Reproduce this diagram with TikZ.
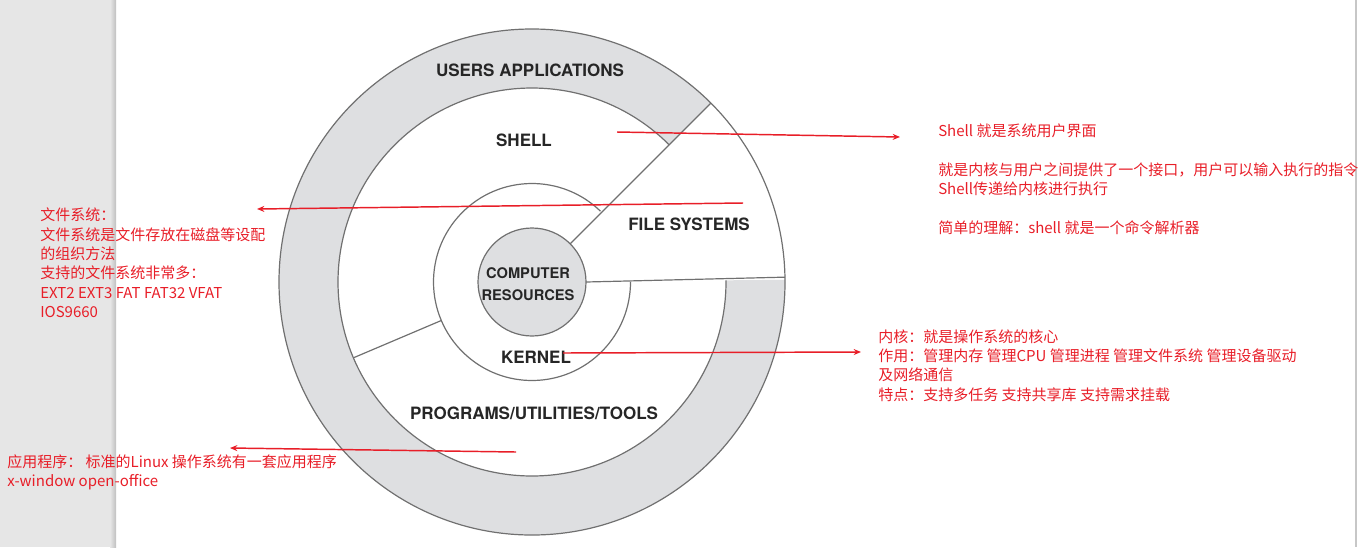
\documentclass[tikz,border=0pt]{standalone}
\usepackage{fontspec}
\setmainfont{Noto Sans CJK SC}
\newfontfamily\diagfont{TeX Gyre Heros}
\usetikzlibrary{arrows.meta}
\definecolor{NoteRed}{RGB}{232, 30, 40}
\definecolor{RingGray}{RGB}{222, 223, 225}
\definecolor{LineGray}{HTML}{707070}
\definecolor{PanelGray}{HTML}{E6E6E6}
\tikzset{
    ring line/.style={LineGray, line width=0.9pt},
    layer label/.style={text=black!85, inner sep=0pt,
        font=\diagfont\bfseries\fontsize{12.75pt}{14pt}\selectfont},
    note/.style={text=NoteRed, inner sep=0pt, anchor=west, align=left,
        font=\fontsize{11.25pt}{14.5pt}\selectfont},
    note arrow/.style={NoteRed, line width=1.1pt, -{Stealth[length={5.5pt}, width={4.5pt}]}},
}

\begin{document}
\begin{tikzpicture}[x=0.75pt, y=-0.75pt]
\useasboundingbox (0,0) rectangle (1358,547);

% page edges
\fill[PanelGray] (0,0) rectangle (111,547);
\shade[left color=PanelGray, right color=black!25] (110,0) rectangle (116,547);
\fill[black!22] (1355,0) rectangle (1357,547);

\coordinate (center) at (532,282);

\begin{scope}[shift={(center)}, yscale=-1]
    \fill[RingGray] (45:253) arc[start angle=45, end angle=360.5, radius=253]
        -- (360.5:194) arc[start angle=360.5, end angle=45, radius=194] -- cycle;
    \filldraw[ring line, fill=RingGray] (0,0) circle[radius=54];
    \draw[ring line] (0,0) circle[radius=253];
    \draw[ring line] (45:194) arc[start angle=45, end angle=360.5, radius=194];
    \draw[ring line] (46:98.5) arc[start angle=46, end angle=360, radius=98.5];
    \draw[ring line] (45:54) -- (45:253);
    \draw[ring line] (0:54) -- (1.1:253);
    \draw[ring line] (203:98.5) -- (203:194);
\end{scope}

\node[layer label] (users) at (530,70) {USERS APPLICATIONS};
\node[layer label] (shell) at (524,140) {SHELL};
\node[layer label] (filesys) at (689,224) {FILE SYSTEMS};
\node[layer label, align=center, font=\diagfont\bfseries\fontsize{11pt}{16.5pt}\selectfont]
    (resources) at (528,284) {COMPUTER\\RESOURCES};
\node[layer label] (kernel) at (536,357) {KERNEL};
\node[layer label] (programs) at (534,413) {PROGRAMS/UTILITIES/TOOLS};

% notes
\node[note] (shell-note) at (938,179.5) {Shell 就是系统用户界面\\[14.5pt]
    就是内核与用户之间提供了一个接口，用户可以输入执行的指令\\
    Shell传递给内核进行执行\\[14.5pt]
    简单的理解：shell 就是一个命令解析器};
\node[note] (kernel-note) at (878,365.5) {内核：就是操作系统的核心\\
    作用：管理内存 管理CPU 管理进程 管理文件系统 管理设备驱动\\
    及网络通信\\
    特点：支持多任务 支持共享库 支持需求挂载};
\node[note] (fs-note) at (40,263) {文件系统：\\
    文件系统是文件存放在磁盘等设配\\
    的组织方法\\
    支持的文件系统非常多：\\
    EXT2 EXT3 FAT FAT32 VFAT\\
    IOS9660};
\node[note] (app-note) at (7,472.5) {应用程序： 标准的Linux 操作系统有一套应用程序\\
    x-window open-office};

\coordinate (shell-from) at (617,132);
\coordinate (shell-to) at (900,137);
\coordinate (fs-from) at (743,203);
\coordinate (fs-to) at (257,209);
\coordinate (kernel-from) at (563,353);
\coordinate (kernel-to) at (861,352);
\coordinate (app-from) at (516,452);
\coordinate (app-to) at (230,448);

\draw[note arrow] (shell-from) -- (shell-to);
\draw[note arrow] (fs-from) -- (fs-to);
\draw[note arrow] (kernel-from) -- (kernel-to);
\draw[note arrow] (app-from) -- (app-to);

\end{tikzpicture}
\end{document}
